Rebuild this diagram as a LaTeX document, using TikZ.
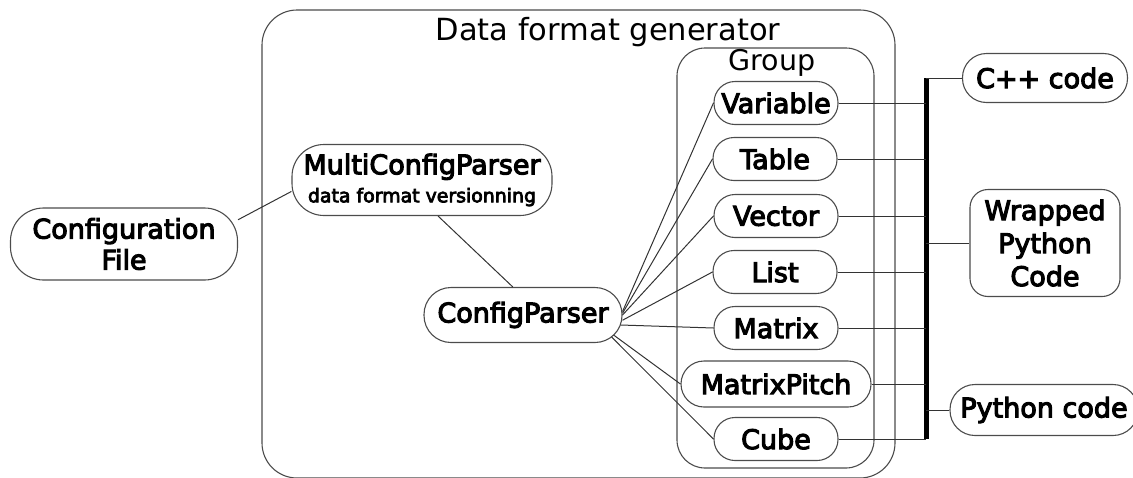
\documentclass[tikz,border=0pt]{standalone}
\usepackage{fontspec}
\setmainfont{DejaVu Sans}
\newfontfamily\heavyfont{DejaVu Sans}[FakeBold=4]
\usetikzlibrary{calc}

\tikzset{
  pill/.style={draw=black!70, line width=1.1pt, align=center, inner sep=0pt,
    font=\heavyfont\fontsize{27}{31}\selectfont},
  itembox/.style={pill, minimum width=124pt, minimum height=43pt, rounded corners=21pt},
  frame/.style={draw=black!70, line width=1.1pt},
  wire/.style={draw=black!80, line width=1pt},
}

\begin{document}
\begin{tikzpicture}[x=1pt, y=-1pt]
			%%%%% START %%%%%
			\useasboundingbox (0,0) rectangle (1133,477);
			\clip (0,0) rectangle (1133,477);
			
			% generator frame and group frame
			\draw[frame, rounded corners=35pt] (262,10) rectangle (895,478);
			\node[font=\fontsize{30.5}{34}\selectfont] (title) at (608,32) {Data format generator};
			\draw[frame, rounded corners=28pt] (677,48) rectangle (874,468);
			\node[font=\fontsize{28.5}{32}\selectfont] (grp) at (772,63) {Group};
			
			% inputs and parsers
			\node[pill, minimum width=227pt, minimum height=72pt, rounded corners=33pt] (cfg) at (124,244) {Configuration\\File};
			\node[pill, minimum width=260pt, minimum height=71pt, rounded corners=32pt] (multi) at (422,180)
			  {MultiConfigParser\\[-3pt]{\fontsize{18.9}{22}\selectfont data format versionning}};
			\node[pill, minimum width=198pt, minimum height=55pt, rounded corners=27pt] (cp) at (523,315) {ConfigParser};
			
			% group members
			\node[itembox] (var) at (776,103) {Variable};
			\node[itembox] (tab) at (775,159) {Table};
			\node[itembox] (vec) at (776,216) {Vector};
			\node[itembox] (lst) at (775,272) {List};
			\node[itembox] (mat) at (776,328) {Matrix};
			\node[itembox, minimum width=190pt, minimum height=46pt, rounded corners=23pt] (mxp) at (776,384) {MatrixPitch};
			\node[itembox] (cub) at (776,439) {Cube};
			
			% outputs
			\node[pill, minimum width=165pt, minimum height=49pt, rounded corners=24pt] (cpp) at (1045,78) {C++ code};
			\node[pill, minimum width=150pt, minimum height=107pt, rounded corners=18pt, font=\heavyfont\fontsize{27}{33}\selectfont] (wrap) at (1045,243) {Wrapped\\Python\\Code};
			\node[pill, minimum width=188pt, minimum height=51pt, rounded corners=25pt] (py) at (1044,410) {Python code};
			
			% bus
			\coordinate (busTop) at (926,78);
			\coordinate (busBot) at (926,439);
			\draw[line width=5pt] (busTop) -- (busBot);
			
			\draw[wire] (cfg.12) -- (multi.185);
			\draw[wire] (multi.-66) -- (cp.110);
			\foreach \n/\a in {var/2, tab/1, vec/0, lst/-3}
			  \draw[wire] (cp.\a) -- (\n.west);
			\draw[wire] ($(cp.east)+(-2,10)$) -- (mat.west);
			\draw[wire] ($(cp.east)+(-9,20)$) -- (mxp.west);
			\draw[wire] ($(cp.east)+(-11,22)$) -- (cub.west);
			\foreach \n in {var, tab, vec, lst, mat, mxp, cub}
			  \draw[wire] (\n.east) -- (\n.east -| busTop);
			
			\draw[wire] (busTop) -- (cpp.west);
			\draw[wire] (wrap.west -| busTop) -- (wrap.west);
			\draw[wire] (py.west -| busTop) -- (py.west);
			%%%%% END %%%%%
\end{tikzpicture}
\end{document}
